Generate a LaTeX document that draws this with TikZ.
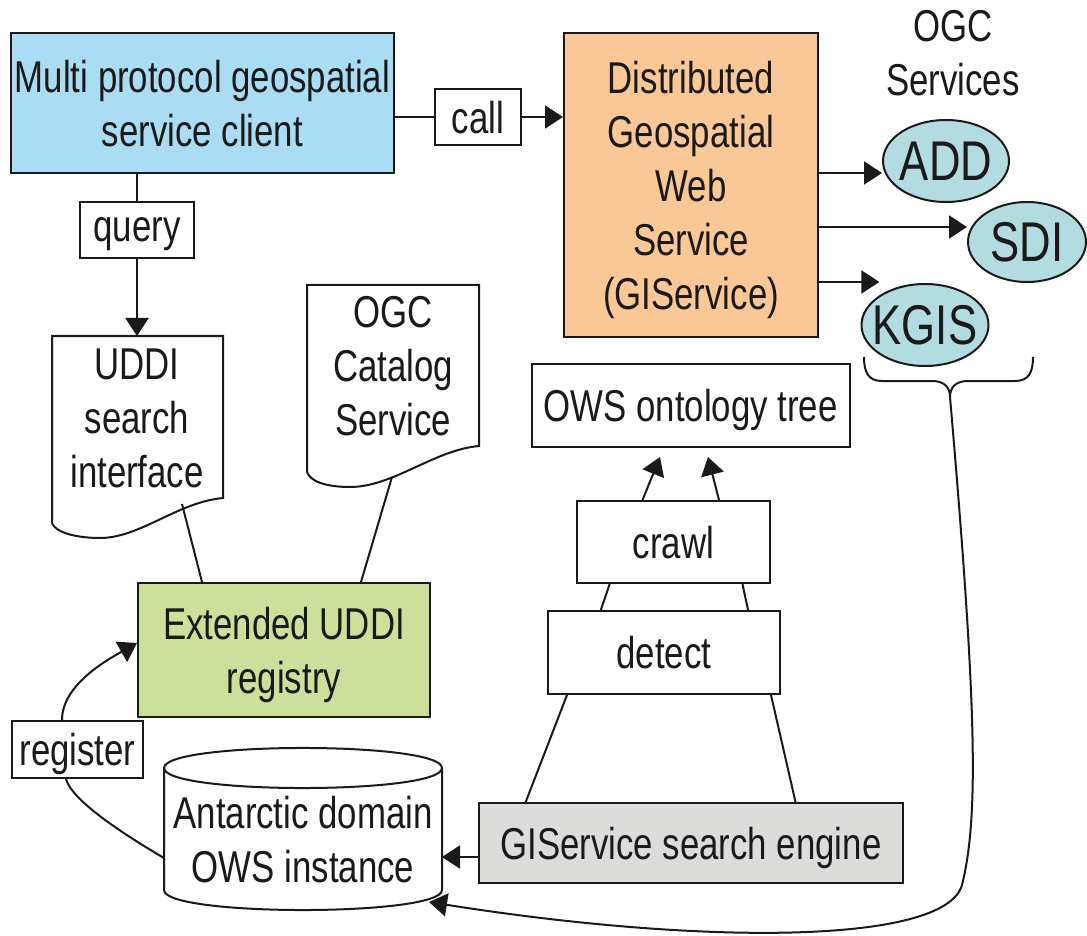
\documentclass[tikz,border=0pt]{standalone}
\usepackage{fontspec}
\setmainfont{Liberation Sans}[FakeStretch=0.78]
\usetikzlibrary{arrows.meta,shapes.geometric}
\definecolor{cblue}{HTML}{AADDF4}
\definecolor{corange}{HTML}{FAC896}
\definecolor{cgreen}{HTML}{CCE09B}
\definecolor{cgray}{HTML}{DCDDDB}
\definecolor{cteal}{HTML}{B2DCE0}
\definecolor{cline}{HTML}{1A1A1A}
\begin{document}
\begin{tikzpicture}[x=0.5pt,y=-0.5pt,line width=1pt,
  every node/.style={font=\fontsize{22.3}{27}\selectfont, inner sep=0pt, align=center, text depth=0pt, text=cline},
  boxn/.style={draw=cline, rectangle},
  ell/.style={draw=cline, ellipse, fill=cteal, font=\fontsize{28}{30}\selectfont},
  arr/.style={draw=cline, -{Triangle[length=9pt,width=11.5pt]}},
  conn/.style={draw=cline}]
\useasboundingbox (0,0) rectangle (1087,936);

% top row
\node[boxn, fill=cblue, minimum width=191.5pt, minimum height=70pt] (client) at (202.5,103) {Multi protocol geospatial\\service client};
\node[boxn, minimum width=43pt, minimum height=28pt] (call) at (478,117) {call};
\node[boxn, minimum width=57pt, minimum height=28pt] (query) at (137,230) {query};
\node[boxn, fill=corange, minimum width=127pt, minimum height=152pt] (dgws) at (691,185) {Distributed\\Geospatial\\Web\\Service\\(GIService)};
\node (ogcs) at (953,53) {OGC\\Services};
\node[ell, minimum width=63pt, minimum height=41pt] (add) at (946,161) {\makebox[0pt]{ADD}};
\node[ell, minimum width=59pt, minimum height=40pt] (sdi) at (1027,242) {\makebox[0pt]{SDI}};
\node[ell, minimum width=63.5pt, minimum height=41pt] (kgis) at (925,325) {\makebox[0pt]{KGIS}};

% documents
\draw[conn, fill=white] (52,336) -- (223,336) -- (223,498) .. controls (178,502) and (140,538) .. (100,538) .. controls (75,538) and (55,532) .. (52,523) -- cycle;
\draw[conn, fill=white] (307,285) -- (479,285) -- (479,446) .. controls (434,450) and (393,487) .. (350,487) .. controls (325,487) and (310,481) .. (307,472) -- cycle;
\coordinate (udtop) at (137,336);
\coordinate (udb) at (182,504);
\coordinate (ogb) at (392,477);
\node (uddi) at (137,418) {UDDI\\search\\interface};
\node (ogcc) at (393,366) {OGC\\Catalog\\Service};

\node[boxn, fill=cgreen, minimum width=146pt, minimum height=67pt] (eur) at (284,650) {Extended UDDI\\registry};

% right column
\node[boxn, minimum width=159pt, minimum height=41.5pt] (ows) at (690.6,405.5) {OWS ontology tree};
\node[boxn, minimum width=96.5pt, minimum height=41pt] (crawl) at (673.5,542) {crawl};
\node[boxn, minimum width=116pt, minimum height=41.5pt] (detect) at (664,652.5) {detect};
\node[boxn, fill=cgray, minimum width=212pt, minimum height=40pt] (gis) at (691,843) {GIService search engine};

% register and cylinder
\node[boxn, minimum width=65.5pt, minimum height=28.5pt] (reg) at (77.5,749.5) {register};
\draw[conn, fill=white] (164,768) -- (164,890) .. controls (164,916.7) and (442,916.7) .. (442,890) -- (442,768) .. controls (442,741.3) and (164,741.3) .. (164,768) -- cycle;
\draw[conn] (164,768) .. controls (164,794.7) and (442,794.7) .. (442,768);
\node (aow) at (303,839) {Antarctic domain\\OWS instance};
\coordinate (cyll) at (164,858);
\coordinate (cylr) at (442,857);
\coordinate (cylbr) at (429,902);

% brace
\coordinate (bt) at (950,397);
\draw[conn] (864,357) .. controls (864,372) and (868,381) .. (882,381) -- (932,381) .. controls (945,381) and (950,388) .. (bt);
\draw[conn] (1033,357) .. controls (1033,372) and (1029,381) .. (1015,381) -- (968,381) .. controls (955,381) and (950,388) .. (bt);

% connectors
\draw[conn] ([yshift=-7pt]client.east) -- (call.west);
\draw[arr] (call.east) -- (call.east -| dgws.west);
\draw[conn] (query.north |- client.south) -- (query.north);
\draw[arr] (query.south) -- (udtop);
\draw[arr] ([yshift=6pt]dgws.east) -- ([yshift=6pt]dgws.east -| add.west);
\draw[arr] ([yshift=-21pt]dgws.east) -- ([yshift=-21pt]dgws.east -| sdi.west);
\draw[arr] ([yshift=-48.5pt]dgws.east) -- ([yshift=-48.5pt]dgws.east -| kgis.north west);
\draw[conn] (udb) -- ([xshift=-41pt]eur.north);
\draw[conn] (ogb) -- ([xshift=38.5pt]eur.north);
\draw[arr] ([xshift=-7.75pt]reg.north) .. controls +(0,-35) and +(-30,17) .. ([yshift=3.5pt]eur.west);
\draw[conn] ([xshift=-5.75pt]reg.south) .. controls +(6,22) and +(-39,-23) .. (cyll);
\draw[arr] ([yshift=-7pt]gis.west) -- (cylr);
\draw[arr] ([xshift=-15.5pt]crawl.north) -- ([xshift=-15.3pt,yshift=-4.5pt]ows.south);
\draw[arr] ([xshift=22.75pt]crawl.north) -- ([xshift=8.7pt,yshift=-4.5pt]ows.south);
\draw[conn] ([xshift=-31.9pt]crawl.south) -- ([xshift=-31.6pt]detect.north);
\draw[conn] ([xshift=34.5pt]crawl.south) -- ([xshift=42pt]detect.north);
\draw[conn] ([xshift=-48.5pt]detect.south) -- ([xshift=-82.65pt]gis.north);
\draw[conn] ([xshift=53.5pt]detect.south) -- ([xshift=52.25pt]gis.north);
\draw[arr] (bt) .. controls (978,720) and (978,820) .. (962,885) .. controls (945,945) and (700,945) .. (cylbr);
\end{tikzpicture}
\end{document}
